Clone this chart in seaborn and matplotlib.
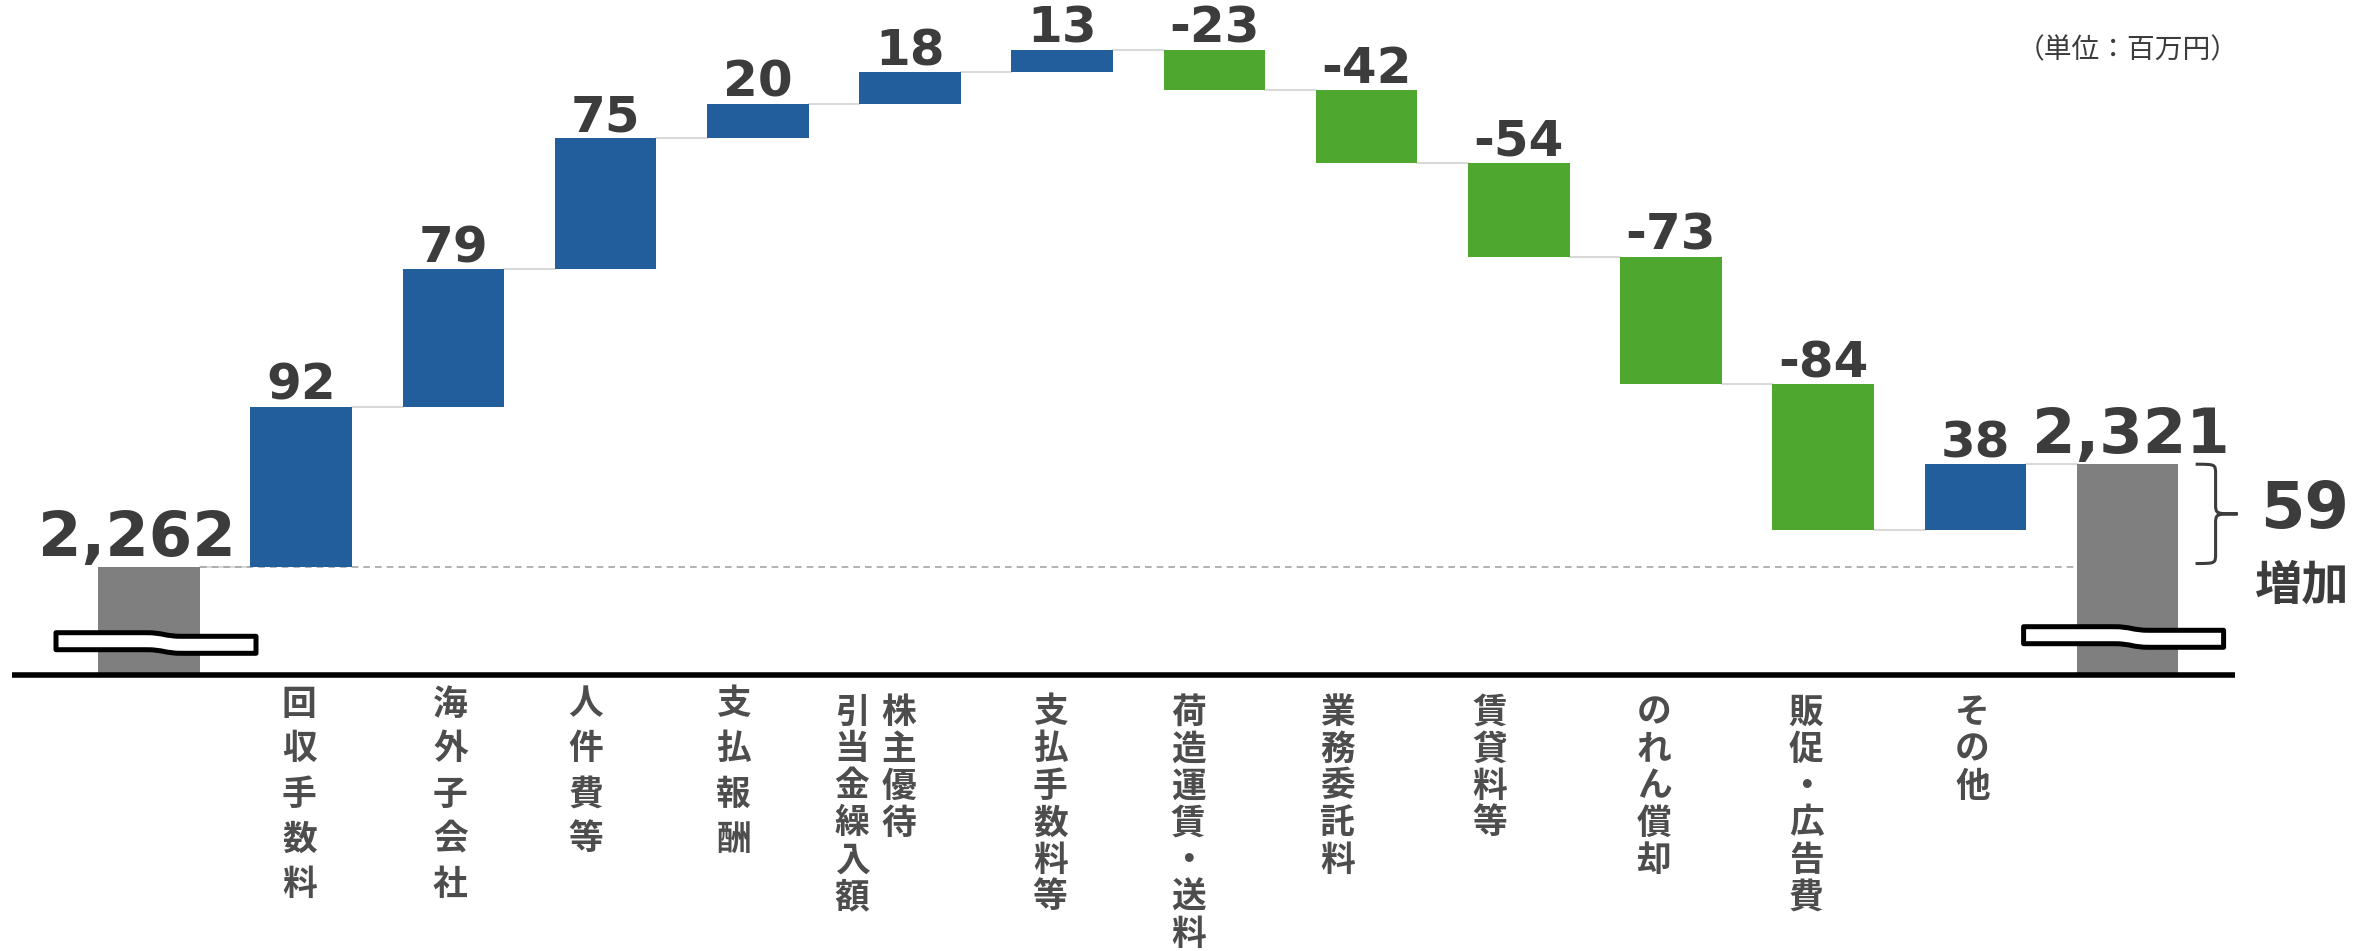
import numpy as np
import pandas as pd
import matplotlib.pyplot as plt
import seaborn as sns
from matplotlib import transforms
from matplotlib.path import Path
from matplotlib.patches import PathPatch

# ---------------------------------------------------------------
# データ (百万円)
# ---------------------------------------------------------------
start_total = 2262
end_total = 2321
changes = [92, 79, 75, 20, 18, 13, -23, -42, -54, -73, -84, 38]
item_labels = ["回収手数料", "海外子会社", "人件費等", "支払報酬",
               "株主優待\n引当金繰入額", "支払手数料等", "荷造運賃・送料",
               "業務委託料", "賃貸料等", "のれん償却", "販促・広告費", "その他"]
diff_label = "増加"
unit_label = "（単位：百万円）"

# ---------------------------------------------------------------
# レイアウト
# ---------------------------------------------------------------
W, H = 2379, 951
X0_PX, STEP_PX = 149, 152.2      # first bar centre / bar pitch (px)
BASE_PX = 675                     # baseline, px from top
Y_FLOOR = 2200                    # value at the (broken) baseline
PX_PER_UNIT = 1.742
BAR_W = 0.667

BLUE, GREEN, GREY = "#225E9C", "#4EA72E", "#7F7F7F"
DARK, LABEL_C = "#3C3C3C", "#4D4D4D"

sns.set_theme(style="white")
plt.rcParams["font.family"] = ["DejaVu Sans", "Noto Sans CJK JP"]
JP = ["Noto Sans CJK JP", "DejaVu Sans"]


def px_x(px):
    return (px - X0_PX) / STEP_PX


def px_y(py):
    return Y_FLOOR + (BASE_PX - py) / PX_PER_UNIT


# ---------------------------------------------------------------
# ウォーターフォール用の表
# ---------------------------------------------------------------
n = len(changes)
levels = start_total + np.cumsum([0] + changes)
keys = ["start"] + item_labels + ["end"]
heights = [start_total] + [abs(c) for c in changes] + [end_total]
bottoms = [0] + [min(levels[i], levels[i + 1]) for i in range(n)] + [0]
colors = [GREY] + [BLUE if c > 0 else GREEN for c in changes] + [GREY]
df = pd.DataFrame({"item": keys, "height": heights})

fig = plt.figure(figsize=(W / 100, H / 100), dpi=100)
ax = fig.add_axes([0, 1 - BASE_PX / H, 1, BASE_PX / H])

sns.barplot(data=df, x="item", y="height", hue="item", palette=colors,
            width=BAR_W, saturation=1, errorbar=None, legend=False,
            linewidth=0, ax=ax, zorder=2)
for cont, b in zip(ax.containers, bottoms):
    for bar in cont:
        bar.set_y(b)

ax.set_xlim(px_x(0), px_x(W))
ax.set_ylim(Y_FLOOR, Y_FLOOR + BASE_PX / PX_PER_UNIT)
ax.set_axis_off()

# 連結線と基準線
for k in range(n + 1):
    ax.plot([k + BAR_W / 2, k + 1 - BAR_W / 2], [levels[k]] * 2,
            color="#D9D9D9", lw=1.5, zorder=1)
ax.plot([BAR_W / 2, n + 1 - BAR_W / 2], [start_total] * 2,
        color="#A6A6A6", lw=1.2, ls=(0, (4, 3)), zorder=1)
ax.plot([px_x(12), px_x(2235)], [Y_FLOOR] * 2, color="black", lw=4,
        solid_capstyle="butt", clip_on=False, zorder=5)

# 数値ラベル
for k, c in enumerate(changes, start=1):
    top = max(levels[k - 1], levels[k])
    ax.annotate(f"{c}", (k, top), xytext=(0, 5), textcoords="offset points",
                ha="center", va="baseline", fontsize=36, fontweight="bold",
                color=DARK)
ax.annotate(f"{start_total:,}", (0, start_total), xytext=(-9, 8),
            textcoords="offset points", ha="center", va="baseline",
            fontsize=45, fontweight="bold", color=DARK)
ax.annotate(f"{end_total:,}", (n + 1, end_total), xytext=(2, 8),
            textcoords="offset points", ha="center", va="baseline",
            fontsize=45, fontweight="bold", color=DARK)

# 縦書きの項目名
blend = transforms.blended_transform_factory(ax.transData, fig.transFigure)
label_dx = [-2, -3, -20, -24, -11, -12, -26, -29, -29, -17, -17, -3]
label_pitch = [45] * 4 + [37] * 8
label_y0 = [704] * 4 + [712] * 8
for k, text in enumerate(item_labels, start=1):
    for j, col in enumerate(text.split("\n")):
        x = k + (label_dx[k - 1] - 47 * j) / STEP_PX
        for m, ch in enumerate(col):
            y = label_y0[k - 1] + m * label_pitch[k - 1]
            ax.text(x, 1 - y / H, ch, transform=blend, ha="center",
                    va="center", fontsize=25, fontweight="bold",
                    color=LABEL_C, family=JP)


# 省略記号（波線）
def break_mark(xc, yc_px):
    hw = 100 / STEP_PX
    xm = xc + 8 / STEP_PX
    s = 18 / STEP_PX
    yc = px_y(yc_px)
    h = 8.5 / PX_PER_UNIT
    d = 1.8 / PX_PER_UNIT
    xl, xr = xc - hw, xc + hw
    verts = [(xl, yc + h + d), (xm - s, yc + h + d),
             (xm, yc + h + d), (xm, yc + h - d), (xm + s, yc + h - d),
             (xr, yc + h - d), (xr, yc - h - d), (xm + s, yc - h - d),
             (xm, yc - h - d), (xm, yc - h + d), (xm - s, yc - h + d),
             (xl, yc - h + d), (xl, yc + h + d)]
    codes = [Path.MOVETO, Path.LINETO,
             Path.CURVE4, Path.CURVE4, Path.CURVE4,
             Path.LINETO, Path.LINETO, Path.LINETO,
             Path.CURVE4, Path.CURVE4, Path.CURVE4,
             Path.LINETO, Path.CLOSEPOLY]
    ax.add_patch(PathPatch(Path(verts, codes), facecolor="white",
                           edgecolor="black", lw=3.6, joinstyle="round",
                           zorder=4, clip_on=False))


break_mark(0 + 7 / STEP_PX, 643)
break_mark(n + 1 - 4 / STEP_PX, 637)

# 中括弧と増加額
xe = n + 1
x0, x1, x2 = xe + 68 / STEP_PX, xe + 88 / STEP_PX, xe + 110 / STEP_PX
yt, yb = end_total, start_total + 2
ym = (yt + yb) / 2
r = 10 / PX_PER_UNIT
verts = [(x0, yt), (x1, yt), (x1, yt), (x1, yt - r),
         (x1, ym + r), (x1, ym), (x1, ym), (x2, ym),
         (x1, ym), (x1, ym), (x1, ym - r),
         (x1, yb + r), (x1, yb), (x1, yb), (x0, yb)]
codes = [Path.MOVETO, Path.CURVE4, Path.CURVE4, Path.CURVE4,
         Path.LINETO, Path.CURVE4, Path.CURVE4, Path.CURVE4,
         Path.CURVE4, Path.CURVE4, Path.CURVE4,
         Path.LINETO, Path.CURVE4, Path.CURVE4, Path.CURVE4]
ax.add_patch(PathPatch(Path(verts, codes), facecolor="none",
                       edgecolor=DARK, lw=2.2, zorder=3, clip_on=False))

ax.text(px_x(2305), px_y(510), f"{end_total - start_total}", ha="center",
        va="center", fontsize=46, fontweight="bold", color=DARK)
ax.text(px_x(2302), px_y(586), diff_label, ha="center", va="center",
        fontsize=34, fontweight="bold", color=DARK, family=JP)

fig.text(2128 / W, 1 - 50 / H, unit_label, ha="center", va="center",
         fontsize=20, color=DARK, family=JP)

fig.savefig("out.png", dpi=100)
